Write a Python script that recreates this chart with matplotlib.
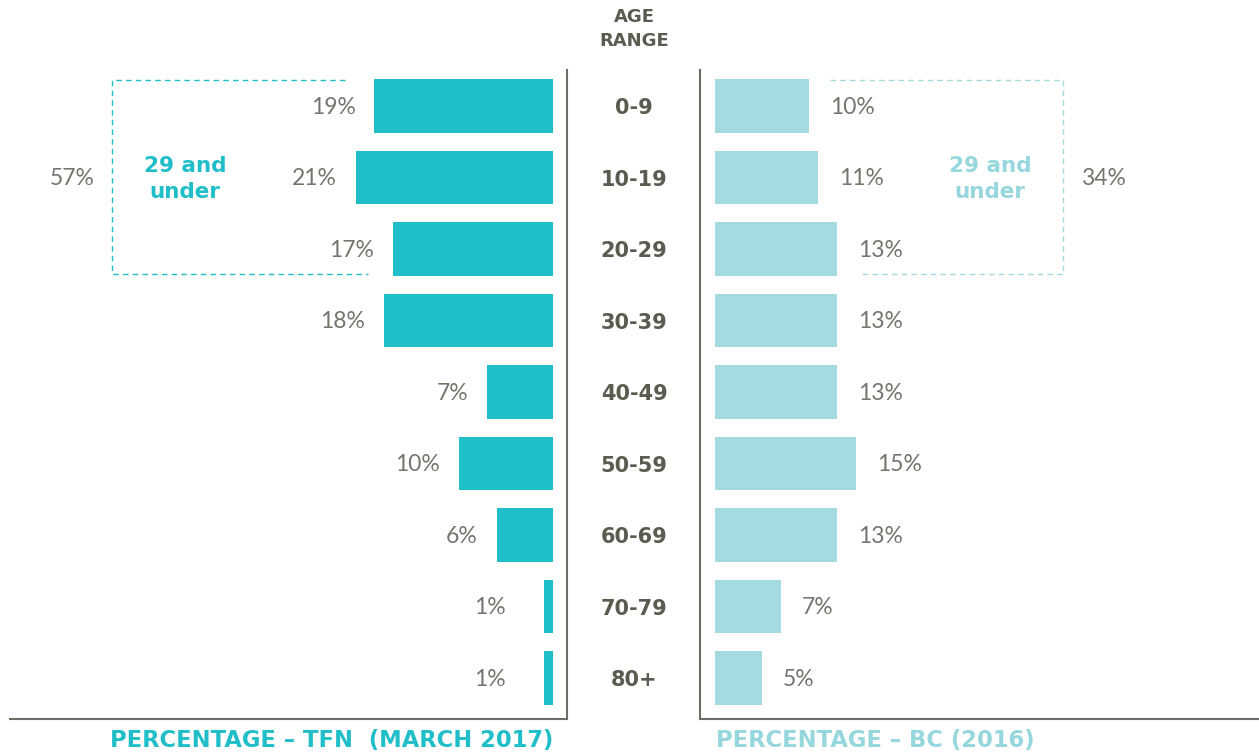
import matplotlib.pyplot as plt
import matplotlib.transforms as mtransforms

ages = ['0-9', '10-19', '20-29', '30-39', '40-49', '50-59', '60-69', '70-79', '80+']
tfn = [19, 21, 17, 18, 7, 10, 6, 1, 1]
bc = [10, 11, 13, 13, 13, 15, 13, 7, 5]
tfn_under29 = 57
bc_under29 = 34

teal = '#20bec9'
light = '#a3dbe0'
light_txt = '#96d6dd'
grey = '#75756e'
dark = '#5b5b50'
line_c = '#6e6e66'

plt.rcParams['font.family'] = ['Lato', 'DejaVu Sans']
bold_font = ['DejaVu Sans']

W, H = 1259, 755
fig = plt.figure(figsize=(W / 100, H / 100), dpi=100)

# pixel layout
px = 9.4            # pixels per percent
top, bot = 70, 719
row0, step = 106, 71.5
y_hi = (top - row0) / step
y_lo = (bot - row0) / step

ax_l = fig.add_axes([10 / W, (H - bot) / H, 557 / W, (bot - top) / H])
ax_r = fig.add_axes([700 / W, (H - bot) / H, 559 / W, (bot - top) / H])

ax_l.set_xlim((553 - 10) / px, -(567 - 553) / px)
ax_r.set_xlim(-(715 - 700) / px, (1259 - 715) / px)
for ax in (ax_l, ax_r):
    ax.set_ylim(y_lo, y_hi)
    ax.set_xticks([])
    ax.set_yticks([])
    ax.spines['top'].set_visible(False)
    for s in ax.spines.values():
        s.set_color(line_c)
        s.set_linewidth(1.5)
ax_l.spines['left'].set_visible(False)
ax_r.spines['right'].set_visible(False)

ypos = list(range(len(ages)))
ax_l.barh(ypos, tfn, height=0.755, color=teal)
ax_r.barh(ypos, bc, height=0.755, color=light)

for y, v in zip(ypos, tfn):
    ax_l.text(max(v, 3) + 2, y + 0.02, f'{v}%', ha='right', va='center',
              fontsize=16.5, color=grey)
for y, v in zip(ypos, bc):
    ax_r.text(max(v, 3) + 2.2, y + 0.02, f'{v}%', ha='left', va='center',
              fontsize=16.5, color=grey)

# age labels in the middle column
tr = mtransforms.blended_transform_factory(fig.transFigure, ax_l.transData)
for y, a in zip(ypos, ages):
    fig.text(634 / W, y + 0.03, a, transform=tr, ha='center', va='center',
             fontsize=15, fontweight='bold', color=dark, family=bold_font)
fig.text(634 / W, 1 - 29 / H, 'AGE\nRANGE', ha='center', va='center',
         fontsize=13, fontweight='bold', color=dark, linespacing=1.4,
         family=bold_font)

# dashed "29 and under" boxes
dash = dict(color=teal, lw=1, ls=(0, (4, 3)), clip_on=False)
yt, yb = (80 - row0) / step, (274 - row0) / step
xl = (553 - 112) / px
ax_l.plot([(553 - 345) / px, xl, xl, (553 - 368) / px], [yt, yt, yb, yb], **dash)
dash['color'] = light
xr = (1063 - 715) / px
ax_r.plot([(830 - 715) / px, xr, xr, (858 - 715) / px], [yt, yt, yb, yb], **dash)

ax_l.text((553 - 185) / px, 1.02, '29 and\nunder', ha='center', va='center',
          fontsize=15.5, fontweight='bold', color=teal, linespacing=1.35,
          family=bold_font)
ax_l.text((553 - 72) / px, 1.02, f'{tfn_under29}%', ha='center', va='center',
          fontsize=16.5, color=grey)
ax_r.text((990 - 715) / px, 1.02, '29 and\nunder', ha='center', va='center',
          fontsize=15.5, fontweight='bold', color=light_txt, linespacing=1.35,
          family=bold_font)
ax_r.text((1103 - 715) / px, 1.02, f'{bc_under29}%', ha='center', va='center',
          fontsize=16.5, color=grey)

# bottom titles
fig.text(553 / W, 1 - 741 / H, 'PERCENTAGE \u2013 TFN  (MARCH 2017)', ha='right',
         va='center', fontsize=16.3, fontweight='bold', color=teal,
         family=bold_font)
fig.text(716 / W, 1 - 741 / H, 'PERCENTAGE \u2013 BC (2016)', ha='left',
         va='center', fontsize=16.3, fontweight='bold', color=light_txt,
         family=bold_font)

fig.savefig('out.png', dpi=100)
